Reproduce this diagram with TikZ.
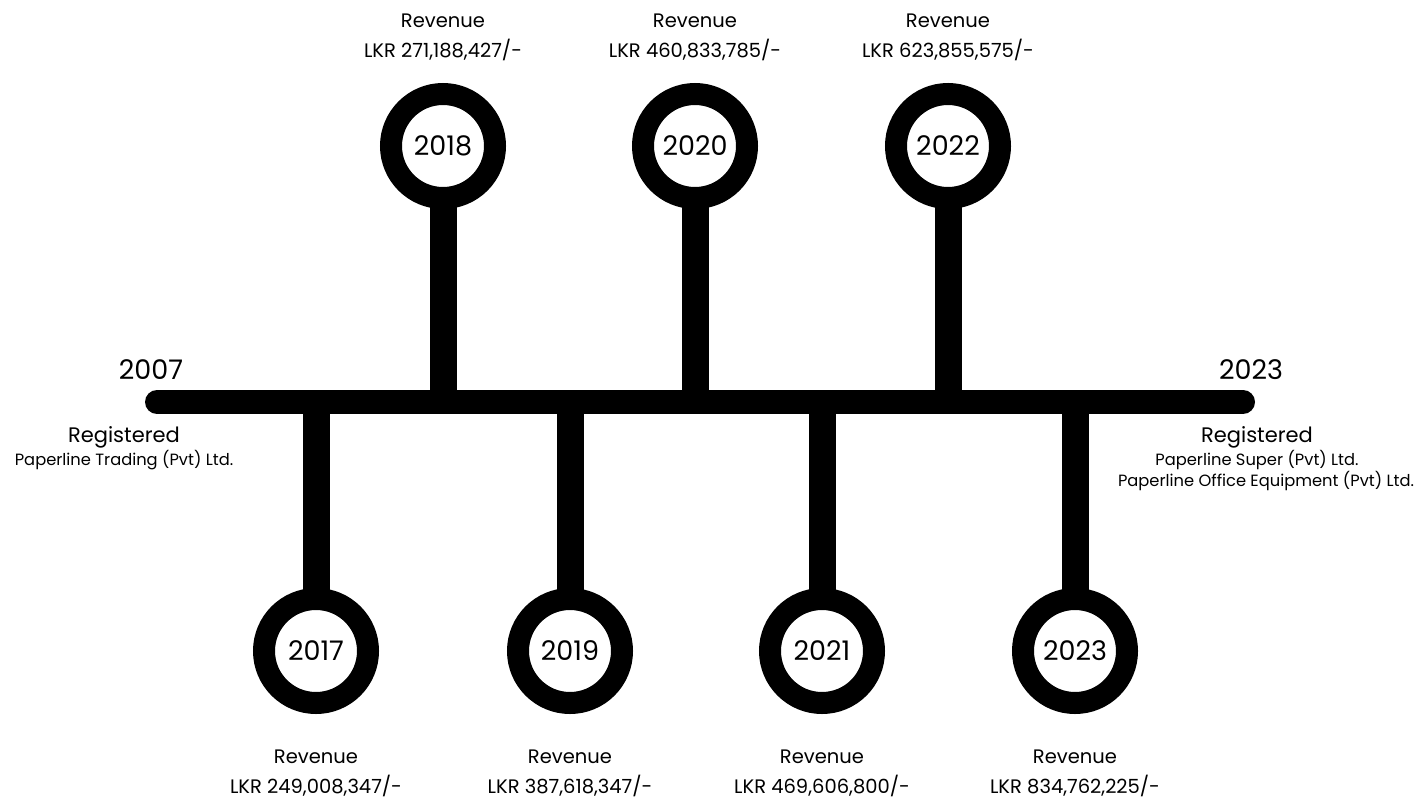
\documentclass[tikz,border=0pt]{standalone}
\usepackage{fontspec}
\setmainfont{Poppins}
\usetikzlibrary{backgrounds}
\begin{document}
\begin{tikzpicture}[x=1pt,y=-1pt,
  ring/.style={circle,draw=black,fill=white,line width=22pt,minimum size=104pt,inner sep=0pt,outer sep=0pt,font=\fontsize{27}{30}\selectfont},
  stem/.style={line width=27pt,black},
  bar/.style={line width=24pt,line cap=round,black},
  rev/.style={align=center,font=\fontsize{19.5}{30}\selectfont,inner sep=0pt},
  yr/.style={font=\fontsize{27}{30}\selectfont,inner sep=0pt},
  reg/.style={font=\fontsize{21}{24}\selectfont,inner sep=0pt},
  co/.style={font=\fontsize{16.3}{18}\selectfont,inner sep=0pt}]
\useasboundingbox (0,0) rectangle (1422,798);
\coordinate (s) at (157,402);
\coordinate (e) at (1243,402);
\foreach \yy/\x in {2017/316,2018/443,2019/570,2020/695,2021/822,2022/948,2023/1075}{
  \coordinate (b\yy) at (\x,402);
}
\node[ring] (c2018) at (443,146) {2018};
\node[ring] (c2020) at (695,146) {2020};
\node[ring] (c2022) at (948,146) {2022};
\node[ring] (c2017) at (316,651) {2017};
\node[ring] (c2019) at (570,651) {2019};
\node[ring] (c2021) at (822,651) {2021};
\node[ring] (c2023) at (1075,651) {2023};
\begin{pgfonlayer}{background}
\foreach \yy in {2017,2018,2019,2020,2021,2022,2023}{
  \draw[stem] (b\yy) -- (c\yy.center);
}
\draw[bar] (s) -- (e);
\end{pgfonlayer}
\node[rev] (r2018) at (443,37) {Revenue\\LKR 271,188,427/-};
\node[rev] (r2020) at (695,37) {Revenue\\LKR 460,833,785/-};
\node[rev] (r2022) at (948,37) {Revenue\\LKR 623,855,575/-};
\node[rev] (r2017) at (316,773) {Revenue\\LKR 249,008,347/-};
\node[rev] (r2019) at (570,773) {Revenue\\LKR 387,618,347/-};
\node[rev] (r2021) at (822,773) {Revenue\\LKR 469,606,800/-};
\node[rev] (r2023) at (1075,773) {Revenue\\LKR 834,762,225/-};
\node[yr] (y2007) at (151,370) {2007};
\node[yr] (y2023) at (1251,370) {2023};
\node[reg] (g1) at (124,437) {Registered};
\node[co] (p1) at (124,460) {Paperline Trading (Pvt) Ltd.};
\node[reg] (g2) at (1257,437) {Registered};
\node[co] (p2) at (1257,460) {Paperline Super (Pvt) Ltd.};
\node[co] (p3) at (1266,481) {Paperline Office Equipment (Pvt) Ltd.};
\end{tikzpicture}
\end{document}
